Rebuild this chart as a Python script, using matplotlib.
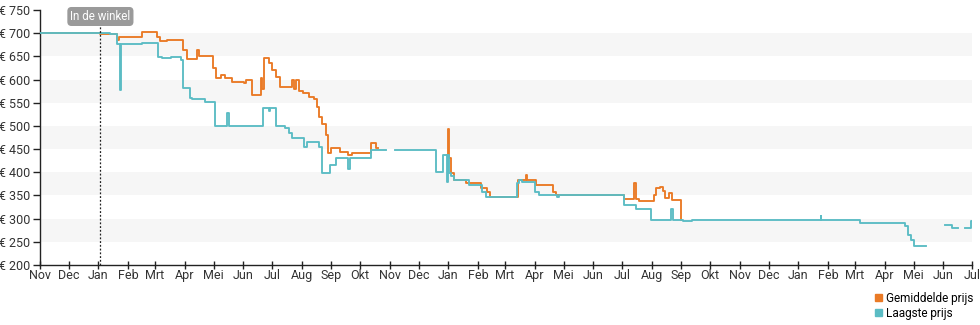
import numpy as np
import matplotlib
matplotlib.use("Agg")
import matplotlib.pyplot as plt
import matplotlib.dates as mdates
from matplotlib.patches import Patch

plt.rcParams['font.family'] = ['Roboto', 'DejaVu Sans']

# Gemiddelde prijs (average price), step series, nan = no data
avg_dates = ["2020-11-01", "2021-01-03", "2021-01-20", "2021-01-22", "2021-02-15", "2021-03-03",
             "2021-03-06", "2021-03-13", "2021-03-30", "2021-04-03", "2021-04-14", "2021-04-16",
             "2021-04-30", "2021-05-04", "2021-05-09", "2021-05-13", "2021-05-20", "2021-06-02",
             "2021-06-04", "2021-06-10", "2021-06-19", "2021-06-21", "2021-06-23", "2021-06-28",
             "2021-07-01", "2021-07-05", "2021-07-09", "2021-07-22", "2021-07-24", "2021-07-26",
             "2021-07-29", "2021-08-02", "2021-08-09", "2021-08-14", "2021-08-17", "2021-08-19",
             "2021-08-22", "2021-08-26", "2021-08-28", "2021-08-31", "2021-09-10", "2021-09-18",
             "2021-09-22", "2021-10-12", "2021-10-17", "2021-10-19",
             "2021-12-30", "2022-01-01", "2022-01-02", "2022-01-04", "2022-01-07", "2022-01-19",
             "2022-02-04", "2022-02-10", "2022-02-13", "2022-03-14", "2022-03-23", "2022-03-24",
             "2022-04-02", "2022-04-20", "2022-04-23", "2022-04-26", "2022-07-03", "2022-07-14",
             "2022-07-16", "2022-07-19", "2022-08-03", "2022-08-05", "2022-08-10", "2022-08-13",
             "2022-08-15", "2022-08-19", "2022-08-22", "2022-08-31", "2022-09-01"]
avg_prices = [700, 698, 685, 692, 702, 692,
              683, 686, 664, 645, 664, 650,
              625, 603, 610, 603, 595, 592,
              600, 567, 603, 580, 646, 635,
              620, 605, 585, 600, 580, 598,
              575, 570, 563, 557, 540, 520,
              505, 480, 441, 452, 443, 437,
              441, 463, 452, np.nan,
              437, 493, 430, 398, 383, 376,
              366, 358, 347, 383, 394, 383,
              373, 358, 352, 350, 342, 376,
              342, 339, 350, 366, 369, 360,
              345, 355, 340, 297, np.nan]

# Laagste prijs (lowest price)
low_dates = ["2020-11-01", "2021-01-13", "2021-01-20", "2021-01-23", "2021-01-24", "2021-02-15",
             "2021-03-04", "2021-03-08", "2021-03-18", "2021-03-28", "2021-03-30", "2021-04-06",
             "2021-04-09", "2021-04-22", "2021-05-03", "2021-05-15", "2021-05-17", "2021-06-22",
             "2021-06-28", "2021-06-29", "2021-07-05", "2021-07-14", "2021-07-19", "2021-07-22",
             "2021-08-03", "2021-08-06", "2021-08-19", "2021-08-22", "2021-08-30", "2021-09-06",
             "2021-09-18", "2021-09-20", "2021-10-12", "2021-10-28",
             "2021-11-06", "2021-12-19", "2021-12-26", "2021-12-30", "2021-12-31", "2022-01-02",
             "2022-01-04", "2022-01-07", "2022-01-22", "2022-02-05", "2022-02-09", "2022-03-13",
             "2022-03-16", "2022-03-19", "2022-04-01", "2022-04-05", "2022-04-24", "2022-04-26",
             "2022-07-03", "2022-07-16", "2022-07-31", "2022-08-21", "2022-08-23", "2022-09-03",
             "2022-09-12", "2023-01-04", "2023-01-24", "2023-01-25", "2023-03-06", "2023-03-30",
             "2023-04-22", "2023-04-25", "2023-04-28", "2023-05-02", "2023-05-14",
             "2023-06-03", "2023-06-10", "2023-06-16", "2023-06-24", "2023-06-30", "2023-07-01"]
low_prices = [700, 698, 676, 577, 676, 678,
              649, 646, 649, 643, 581, 560,
              557, 552, 500, 528, 500, 538,
              533, 538, 500, 495, 484, 474,
              455, 466, 455, 398, 415, 430,
              408, 430, 448, np.nan,
              448, 401, 437, 380, 437, 398,
              392, 383, 373, 358, 347, 376,
              383, 380, 358, 352, 347, 350,
              329, 320, 297, 320, 297, 294,
              297, 296, 305, 298, 291, 290,
              285, 265, 254, 241, np.nan,
              286, 279, np.nan, 279, 295, 295]

month_names = ["Jan", "Feb", "Mrt", "Apr", "Mei", "Jun", "Jul", "Aug", "Sep", "Okt", "Nov", "Dec"]
in_store_date = "2021-01-03"

orange = "#ea7a26"
teal = "#5bbcc4"

fig = plt.figure(figsize=(9.8, 3.25), dpi=100)
ax = fig.add_axes([40 / 980, 60 / 325, 932 / 980, 255 / 325])

# alternating background bands
for lo in range(250, 750, 100):
    ax.axhspan(lo, lo + 50, color="#f6f6f6", lw=0, zorder=0)

ax.plot(np.array(avg_dates, dtype="datetime64[D]"), avg_prices, drawstyle="steps-post",
        color=orange, lw=1.35, zorder=2)
ax.plot(np.array(low_dates, dtype="datetime64[D]"), low_prices, drawstyle="steps-post",
        color=teal, lw=1.35, zorder=3)

store = np.datetime64(in_store_date)
ax.plot([store, store], [200, 728], color="#222222", lw=0.9, ls=(0, (1.5, 1.5)), zorder=4)
ax.text(store, 736, "In de winkel", ha="center", va="center", fontsize=8.3, color="white",
        bbox=dict(boxstyle="round,pad=0.2,rounding_size=0.3", fc="#9a9a9a", ec="#9a9a9a"),
        zorder=5)

ax.set_xlim(np.datetime64("2020-11-01"), np.datetime64("2023-07-01"))
ax.set_ylim(200, 750)
ax.set_yticks(range(200, 751, 50))
ax.set_yticklabels([f"€ {v}" for v in range(200, 751, 50)])

ax.xaxis.set_major_locator(mdates.MonthLocator())
ax.xaxis.set_major_formatter(plt.FuncFormatter(
    lambda v, p: month_names[mdates.num2date(v).month - 1]))

for s in ["top", "right"]:
    ax.spines[s].set_visible(False)
for s in ["left", "bottom"]:
    ax.spines[s].set_color("#222222")
    ax.spines[s].set_linewidth(1.0)
ax.tick_params(axis="y", length=5, width=1, color="#222222", labelsize=9, labelcolor="#333333", pad=2)
ax.tick_params(axis="x", direction="inout", length=6, width=1, color="#222222", labelsize=9,
               labelcolor="#333333", pad=0)

handles = [Patch(color=orange, label="Gemiddelde prijs"), Patch(color=teal, label="Laagste prijs")]
fig.legend(handles=handles, loc="lower right", bbox_to_anchor=(1.0, -0.005), frameon=False,
           fontsize=8.5, handlelength=0.6, handleheight=0.6, handletextpad=0.3,
           labelspacing=0.15, borderaxespad=0.2)

fig.savefig("out.png", dpi=100)
